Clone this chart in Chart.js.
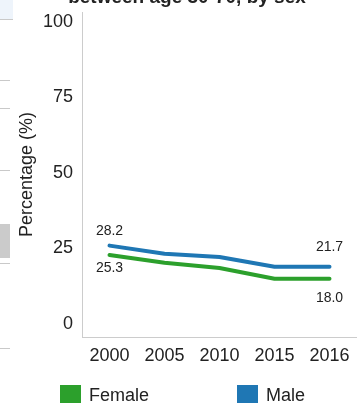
<!DOCTYPE html>
<html>
<head>
<meta charset="utf-8">
<script src="https://cdn.jsdelivr.net/npm/chart.js@4/dist/chart.umd.min.js"></script>
<style>
  html, body { margin: 0; padding: 0; background: #fff; }
  #wrap { position: relative; width: 357px; height: 403px; overflow: hidden; }
  #c { position: absolute; left: 0; top: 0; }
  .edge { position: absolute; left: 0; height: 1px; width: 10px; background: #c9c9c9; z-index: 2; }
</style>
</head>
<body>
<div id="wrap">
  <div style="position:absolute;left:0;top:0;width:13px;height:19px;background:#eef4fb;z-index:1"></div>
  <div class="edge" style="top:19px;width:13px"></div>
  <div class="edge" style="top:80px"></div>
  <div class="edge" style="top:108px"></div>
  <div class="edge" style="top:170px"></div>
  <div style="position:absolute;left:0;top:224px;width:10px;height:34px;background:#cbcbcb;z-index:2"></div>
  <div class="edge" style="top:263px"></div>
  <div class="edge" style="top:348px"></div>
  <canvas id="c" width="357" height="403"></canvas>
</div>
<script>
// Years on the x axis
const years = ['2000', '2005', '2010', '2015', '2016'];
// Percentage per year, by sex
const female = [25.3, 22.9, 21.3, 18.0, 18.0];
const male = [28.2, 25.7, 24.7, 21.7, 21.7];
// Labels shown on the y axis
const yTickValues = [0, 25, 50, 75, 100];

const FONT = "'Liberation Sans', Arial, sans-serif";
const GREEN = '#2ca02c';
const BLUE = '#1f77b4';
const AXIS = '#cccccc';
const TEXT = '#222222';

// Title (its first line sits above the visible page)
const titlePlugin = {
  id: 'topTitle',
  afterDraw(chart) {
    const ctx = chart.ctx;
    ctx.save();
    ctx.font = 'bold 19px ' + FONT;
    ctx.fillStyle = TEXT;
    ctx.textAlign = 'center';
    ctx.textBaseline = 'alphabetic';
    ctx.fillText('between age 30-70, by sex', 187, 3);
    ctx.restore();
  }
};

// Value labels on the first and last point of each line
const endLabels = {
  id: 'endLabels',
  afterDatasetsDraw(chart, args, opts) {
    const ctx = chart.ctx;
    const area = chart.chartArea;
    ctx.save();
    ctx.font = '14px ' + FONT;
    ctx.fillStyle = TEXT;
    ctx.textAlign = 'center';
    ctx.textBaseline = 'middle';
    chart.data.datasets.forEach((ds, di) => {
      const meta = chart.getDatasetMeta(di);
      const last = ds.data.length - 1;
      const offs = opts.offsets[di];
      [[0, offs[0]], [last, offs[1]]].forEach(([i, dy]) => {
        const pt = meta.data[i];
        const text = ds.data[i].toFixed(1);
        const w = ctx.measureText(text).width;
        const x = Math.max(pt.x, area.left + w / 2 + 0.5);
        ctx.fillText(text, x, pt.y + dy);
      });
    });
    ctx.restore();
  }
};

// Legend with square swatches under the axis
const boxLegend = {
  id: 'boxLegend',
  afterDraw(chart, args, opts) {
    const ctx = chart.ctx;
    ctx.save();
    ctx.font = '18px ' + FONT;
    ctx.textBaseline = 'alphabetic';
    ctx.textAlign = 'left';
    chart.data.datasets.forEach((ds, di) => {
      const x = opts.xs[di];
      ctx.fillStyle = ds.borderColor;
      ctx.fillRect(x, opts.y, 21, 21);
      ctx.fillStyle = TEXT;
      ctx.fillText(ds.label, x + 29, opts.y + 16);
    });
    ctx.restore();
  }
};

new Chart(document.getElementById('c'), {
  type: 'line',
  data: {
    labels: years,
    datasets: [
      { label: 'Female', data: female, borderColor: GREEN, backgroundColor: GREEN,
        borderWidth: 4, pointRadius: 0, tension: 0, borderCapStyle: 'round', borderJoinStyle: 'round', yAxisID: 'y' },
      { label: 'Male', data: male, borderColor: BLUE, backgroundColor: BLUE,
        borderWidth: 4, pointRadius: 0, tension: 0, borderCapStyle: 'round', borderJoinStyle: 'round', yAxisID: 'y' }
    ]
  },
  options: {
    responsive: false,
    animation: false,
    devicePixelRatio: 1,
    layout: { padding: { top: 12, right: 0, bottom: 0, left: 0 } },
    plugins: {
      legend: { display: false },
      tooltip: { enabled: false },
      endLabels: { offsets: [[13, 19], [-14, -20]] },
      boxLegend: { xs: [60, 237], y: 385 }
    },
    scales: {
      x: {
        type: 'category',
        offset: true,
        grid: { display: false, drawTicks: false },
        border: { color: AXIS, width: 1 },
        ticks: { font: { family: FONT, size: 18 }, color: TEXT, padding: 8, maxRotation: 0, autoSkip: false },
        afterFit(s) { s.height = 66; s.paddingLeft = 0; s.paddingRight = 0; }
      },
      y: {
        display: false,
        min: 0,
        max: 100.3
      },
      yt: {
        type: 'linear',
        position: 'left',
        min: -4.3,
        max: 103.3,
        grid: { display: false, drawTicks: false },
        border: { color: AXIS, width: 1 },
        afterBuildTicks(s) { s.ticks = yTickValues.map(v => ({ value: v })); },
        ticks: { font: { family: FONT, size: 18 }, color: TEXT, padding: 9 },
        title: {
          display: true,
          text: 'Percentage (%)',
          font: { family: FONT, size: 18 },
          color: TEXT,
          padding: { top: 16, bottom: 0 }
        },
        afterFit(s) { s.width = 82; s.paddingTop = 0; s.paddingBottom = 0; }
      }
    }
  },
  plugins: [titlePlugin, endLabels, boxLegend]
});
</script>
</body>
</html>
